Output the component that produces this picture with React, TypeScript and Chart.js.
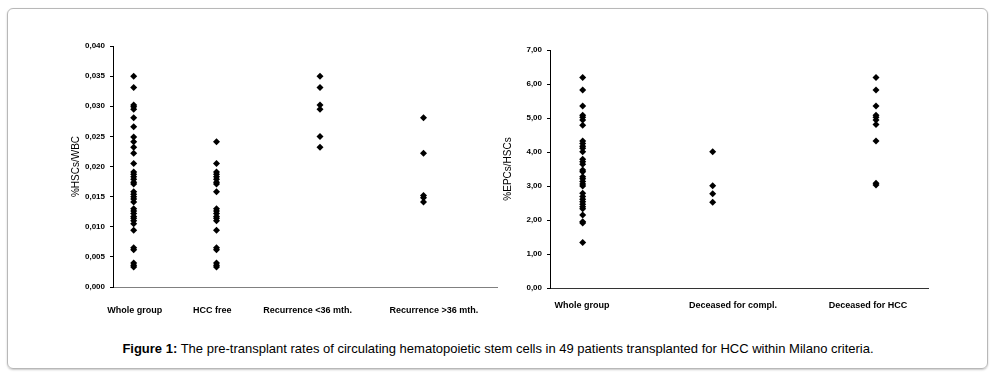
import React, { useEffect, useRef } from "react";
import { Chart, registerables } from "chart.js";

Chart.register(...registerables);

// ---- Left chart data (%HSCs/WBC) ----
const leftCategories = ["Whole group", "HCC free", "Recurrence <36 mth.", "Recurrence >36 mth."];
const leftGroupX = [0.2, 1.0, 2.0, 3.0];
const leftLabelX = [0.21, 0.96, 1.88, 3.1];
const leftXMax = 3.71;
const leftWhole = [0.035, 0.0331, 0.0302, 0.0299, 0.0295, 0.0281, 0.0266, 0.0249, 0.0241, 0.0232, 0.0222, 0.0205, 0.0191, 0.0187, 0.0183, 0.0179, 0.0174, 0.0171, 0.0158, 0.0154, 0.015, 0.0146, 0.0141, 0.013, 0.0126, 0.0122, 0.0117, 0.0114, 0.011, 0.0105, 0.0094, 0.0065, 0.0062, 0.004, 0.0036, 0.0033];
const leftHccFree = [0.0241, 0.0205, 0.0191, 0.0187, 0.0183, 0.0179, 0.0174, 0.0171, 0.0158, 0.013, 0.0126, 0.0122, 0.0117, 0.0114, 0.011, 0.0094, 0.0065, 0.0062, 0.004, 0.0036, 0.0033];
const leftRecLess36 = [0.035, 0.0331, 0.0302, 0.0295, 0.025, 0.0232];
const leftRecMore36 = [0.0281, 0.0222, 0.0152, 0.0148, 0.0141];
const leftSeries = [leftWhole, leftHccFree, leftRecLess36, leftRecMore36];
const leftYTitle = "%HSCs/WBC";

// ---- Right chart data (%EPCs/HSCs) ----
const rightCategories = ["Whole group", "Deceased for compl.", "Deceased for HCC"];
const rightGroupX = [0.327, 1.627, 3.26];
const rightLabelX = [0.32, 1.83, 3.18];
const rightXMax = 3.78;
const rightWhole = [6.19, 5.82, 5.35, 5.08, 5.02, 4.94, 4.79, 4.32, 4.25, 4.17, 4.11, 4.01, 3.79, 3.71, 3.64, 3.47, 3.42, 3.27, 3.21, 3.13, 3.06, 3.0, 2.79, 2.69, 2.61, 2.54, 2.46, 2.39, 2.33, 2.15, 1.95, 1.91, 1.34];
const rightDecCompl = [4.01, 3.01, 2.77, 2.52];
const rightDecHcc = [6.19, 5.82, 5.35, 5.08, 5.02, 4.94, 4.81, 4.32, 3.08, 3.03];
const rightSeries = [rightWhole, rightDecCompl, rightDecHcc];
const rightYTitle = "%EPCs/HSCs";

const caption = "The pre-transplant rates of circulating hematopoietic stem cells in 49 patients transplanted for HCC within Milano criteria.";

const FONT = "'Liberation Sans', Arial, sans-serif";

type Cfg = {
  categories: string[];
  groupX: number[];
  labelX: number[];
  xMax: number;
  series: number[][];
  yMax: number;
  yStep: number;
  yDecimals: number;
  yTitle: string;
  yAxisWidth: number;
  titlePad: number;
  padTop: number;
  padRight: number;
  xAxisHeight: number;
  xLabelPad: number;
  xAxisColor: string;
};

function buildChart(canvas: HTMLCanvasElement, c: Cfg) {
  const datasets = c.series.map((vals, i) => ({
    label: c.categories[i],
    data: vals.map((v) => ({ x: c.groupX[i], y: v })),
    pointStyle: "rectRot" as const,
    pointRadius: 3.5,
    pointBackgroundColor: "#000",
    pointBorderWidth: 0,
    pointBorderColor: "#000",
    showLine: false,
  }));
  return new Chart(canvas, {
    type: "scatter",
    data: { datasets },
    options: {
      animation: false,
      responsive: false,
      events: [],
      layout: { padding: { top: c.padTop, right: c.padRight, left: 0, bottom: 0 } },
      plugins: { legend: { display: false }, tooltip: { enabled: false } },
      scales: {
        x: {
          type: "linear",
          min: 0,
          max: c.xMax,
          grid: { display: false, drawTicks: false, tickLength: 0 },
          border: { display: true, color: c.xAxisColor, width: 1 },
          afterBuildTicks: (scale: any) => {
            scale.ticks = c.labelX.map((v) => ({ value: v }));
          },
          afterFit: (scale: any) => {
            scale.height = c.xAxisHeight;
          },
          ticks: {
            autoSkip: false,
            maxRotation: 0,
            minRotation: 0,
            padding: c.xLabelPad,
            color: "#000",
            font: { family: FONT, size: 9, weight: "bold" },
            callback: (_v: any, i: number) => c.categories[i],
          },
        },
        y: {
          type: "linear",
          min: 0,
          max: c.yMax,
          grid: { display: true, drawOnChartArea: false, drawTicks: true, tickLength: 3, color: "#000" },
          border: { display: true, color: "#000", width: 1 },
          afterFit: (scale: any) => {
            scale.width = c.yAxisWidth;
          },
          title: {
            display: true,
            text: c.yTitle,
            color: "#000",
            font: { family: FONT, size: 10 },
            padding: { top: c.titlePad, bottom: 0 },
          },
          ticks: {
            stepSize: c.yStep,
            padding: 5,
            color: "#000",
            font: { family: FONT, size: 8, weight: "bold" },
            callback: (v: any) => Number(v).toFixed(c.yDecimals).replace(".", ","),
          },
        },
      },
    },
  });
}

function ChartCanvas({ cfg, left, top, width, height }: { cfg: Cfg; left: number; top: number; width: number; height: number }) {
  const ref = useRef<HTMLCanvasElement | null>(null);
  useEffect(() => {
    if (!ref.current) return;
    const ch = buildChart(ref.current, cfg);
    return () => ch.destroy();
  }, []);
  return (
    <canvas
      ref={ref}
      width={width}
      height={height}
      style={{ position: "absolute", left, top, width, height }}
    />
  );
}

const leftCfg: Cfg = {
  categories: leftCategories,
  groupX: leftGroupX,
  labelX: leftLabelX,
  xMax: leftXMax,
  series: leftSeries,
  yMax: 0.04,
  yStep: 0.005,
  yDecimals: 3,
  yTitle: leftYTitle,
  yAxisWidth: 53,
  titlePad: 10,
  padTop: 16,
  padRight: 13,
  xAxisHeight: 43,
  xLabelPad: 18,
  xAxisColor: "#808080",
};

const rightCfg: Cfg = {
  categories: rightCategories,
  groupX: rightGroupX,
  labelX: rightLabelX,
  xMax: rightXMax,
  series: rightSeries,
  yMax: 7,
  yStep: 1,
  yDecimals: 2,
  yTitle: rightYTitle,
  yAxisWidth: 50,
  titlePad: 2,
  padTop: 20,
  padRight: 22,
  xAxisHeight: 42,
  xLabelPad: 12,
  xAxisColor: "#333",
};

export default function App() {
  return (
    <div style={{ position: "absolute", left: 0, top: 0, width: 1000, height: 379, background: "#fff", overflow: "hidden" }}>
      <div
        style={{
          position: "absolute",
          left: 7,
          top: 8,
          width: 979,
          height: 359,
          border: "1px solid #b8b8b8",
          borderRadius: 6,
          boxShadow: "0 1px 2px #c8c8c8",
        }}
      />
      <ChartCanvas cfg={leftCfg} left={60} top={30} width={450} height={300} />
      <ChartCanvas cfg={rightCfg} left={500} top={30} width={450} height={300} />
      <div
        style={{
          position: "absolute",
          left: 0,
          top: 341,
          width: 996,
          textAlign: "center",
          fontFamily: FONT,
          fontSize: 13,
          color: "#000",
          whiteSpace: "nowrap",
        }}
      >
        <b>Figure 1:</b> {caption}
      </div>
    </div>
  );
}
